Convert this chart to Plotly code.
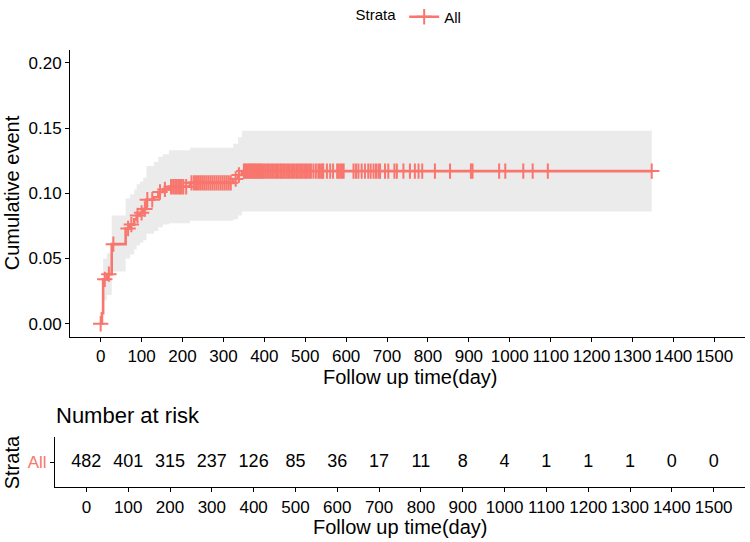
import numpy as np
import plotly.graph_objects as go

# ---- data ----
event_times = [0, 3, 6, 15, 27, 61, 72, 82, 88, 96, 104, 112, 130, 141, 152, 167, 218, 324, 336, 345, 1347]
cum_event = [0.0, 0.008, 0.034, 0.038, 0.061, 0.073, 0.076, 0.080, 0.083, 0.085, 0.088, 0.095, 0.097,
             0.101, 0.103, 0.105, 0.108, 0.111, 0.114, 0.117, 0.117]
ci_lower = [0.0, 0.000, 0.018, 0.022, 0.040, 0.050, 0.053, 0.057, 0.060, 0.062, 0.064, 0.069, 0.071,
            0.074, 0.076, 0.077, 0.079, 0.080, 0.083, 0.086, 0.086]
ci_upper = [0.0, 0.020, 0.050, 0.054, 0.083, 0.096, 0.099, 0.103, 0.107, 0.109, 0.112, 0.121, 0.124,
            0.128, 0.130, 0.133, 0.135, 0.138, 0.143, 0.148, 0.148]

censor_times = [0, 10, 20, 31, 67, 75, 90, 100, 108, 114, 126, 145, 157, 172, 177, 182, 186, 190, 194,
                198, 202, 209, 222, 228, 233, 238, 243, 248, 253, 258, 263, 268, 273, 278, 283, 288, 293,
                298, 303, 308, 313, 318, 330, 338, 350, 353, 356, 359, 362, 365, 368, 371, 374, 377, 380,
                383, 386, 389, 392, 395, 399, 403, 407, 411, 415, 419, 423, 427, 431, 435, 439, 442, 446,
                450, 454, 458, 462, 466, 470, 474, 478, 482, 486, 490, 494, 498, 502, 506, 510, 514, 520,
                526, 532, 536, 541, 544, 553, 561, 568, 578, 582, 586, 590, 594, 618, 624, 630, 638, 646,
                654, 660, 667, 673, 679, 683, 695, 703, 718, 724, 740, 756, 768, 777, 786, 817, 854, 905,
                909, 974, 989, 1033, 1056, 1093, 1347]

risk_times = [0, 100, 200, 300, 400, 500, 600, 700, 800, 900, 1000, 1100, 1200, 1300, 1400, 1500]
at_risk = [482, 401, 315, 237, 126, 85, 36, 17, 11, 8, 4, 1, 1, 1, 0, 0]

y_ticks = [0.0, 0.05, 0.10, 0.15, 0.20]
y_ticklabels = ["0.00", "0.05", "0.10", "0.15", "0.20"]

RED = "#F8766D"
BAND = "#EBEBEB"
FONT = "Liberation Sans, Arial, sans-serif"
W, H = 750, 542

# censor mark heights follow the step curve
idx = np.searchsorted(np.array(event_times), np.array(censor_times), side="right") - 1
censor_y = [cum_event[i] for i in idx]

fig = go.Figure()
fig.add_trace(go.Scatter(x=event_times[1:], y=ci_lower[1:], mode="lines", line=dict(width=0, shape="hv"),
                         showlegend=False, hoverinfo="skip"))
fig.add_trace(go.Scatter(x=event_times[1:], y=ci_upper[1:], mode="lines", line=dict(width=0, shape="hv"),
                         fill="tonexty", fillcolor=BAND, showlegend=False, hoverinfo="skip"))
fig.add_trace(go.Scatter(x=event_times, y=cum_event, mode="lines", line=dict(color=RED, width=2.6, shape="hv"),
                         showlegend=False))
fig.add_trace(go.Scatter(x=censor_times, y=censor_y, mode="markers",
                         marker=dict(symbol="cross-thin", size=11, line=dict(color=RED, width=2)),
                         showlegend=False))
# legend entry
fig.add_trace(go.Scatter(x=[None], y=[None], mode="lines+markers", name="All",
                         line=dict(color=RED, width=2.6),
                         marker=dict(symbol="cross-thin", size=11, line=dict(color=RED, width=2))))

# risk table
fig.add_trace(go.Scatter(x=risk_times, y=[0] * len(risk_times), mode="text",
                         text=[str(v) for v in at_risk], textfont=dict(size=18, color="black", family=FONT),
                         xaxis="x2", yaxis="y2", showlegend=False))

axis_common = dict(showline=True, linecolor="black", linewidth=1, ticks="outside", ticklen=4,
                   tickcolor="black", showgrid=False, zeroline=False,
                   tickfont=dict(size=17, color="black", family=FONT))

fig.update_layout(
    width=W, height=H, margin=dict(l=0, r=0, t=0, b=0),
    plot_bgcolor="white", paper_bgcolor="white",
    font=dict(family=FONT, color="black"),
    xaxis=dict(domain=[70 / W, 745 / W], range=[-75, 1575], tickvals=risk_times, tickangle=0,
               anchor="y", **axis_common),
    yaxis=dict(domain=[(H - 336) / H, (H - 48) / H], range=[-0.01, 0.21], tickvals=y_ticks,
               ticktext=y_ticklabels, anchor="x", **axis_common),
    xaxis2=dict(domain=[55 / W, 745 / W], range=[-75, 1575], tickvals=risk_times, tickangle=0,
                anchor="y2", **axis_common),
    yaxis2=dict(domain=[(H - 487) / H, (H - 437) / H], range=[-0.5, 0.5], tickvals=[0], ticktext=["All"],
                anchor="x2", **{k: v for k, v in axis_common.items() if k != "tickfont"},
                tickfont=dict(size=17, color=RED, family=FONT)),
    legend=dict(orientation="h", x=410 / W, xanchor="center", y=1 - 15 / H, yanchor="middle",
                title=dict(text="Strata", font=dict(size=15, family=FONT)),
                font=dict(size=15, family=FONT), bgcolor="rgba(0,0,0,0)"),
    annotations=[
        dict(text="Cumulative event", x=12 / W, y=1 - 192 / H, xref="paper", yref="paper", textangle=-90,
             showarrow=False, font=dict(size=20), xanchor="center", yanchor="middle"),
        dict(text="Follow up time(day)", x=410 / W, y=1 - 376 / H, xref="paper", yref="paper",
             showarrow=False, font=dict(size=20), xanchor="center", yanchor="middle"),
        dict(text="Number at risk", x=54 / W, y=1 - 415 / H, xref="paper", yref="paper",
             showarrow=False, font=dict(size=22), xanchor="left", yanchor="middle"),
        dict(text="Strata", x=12 / W, y=1 - 462 / H, xref="paper", yref="paper", textangle=-90,
             showarrow=False, font=dict(size=20), xanchor="center", yanchor="middle"),
        dict(text="Follow up time(day)", x=400 / W, y=1 - 527 / H, xref="paper", yref="paper",
             showarrow=False, font=dict(size=20), xanchor="center", yanchor="middle"),
    ],
)

fig.write_html("out.html")
